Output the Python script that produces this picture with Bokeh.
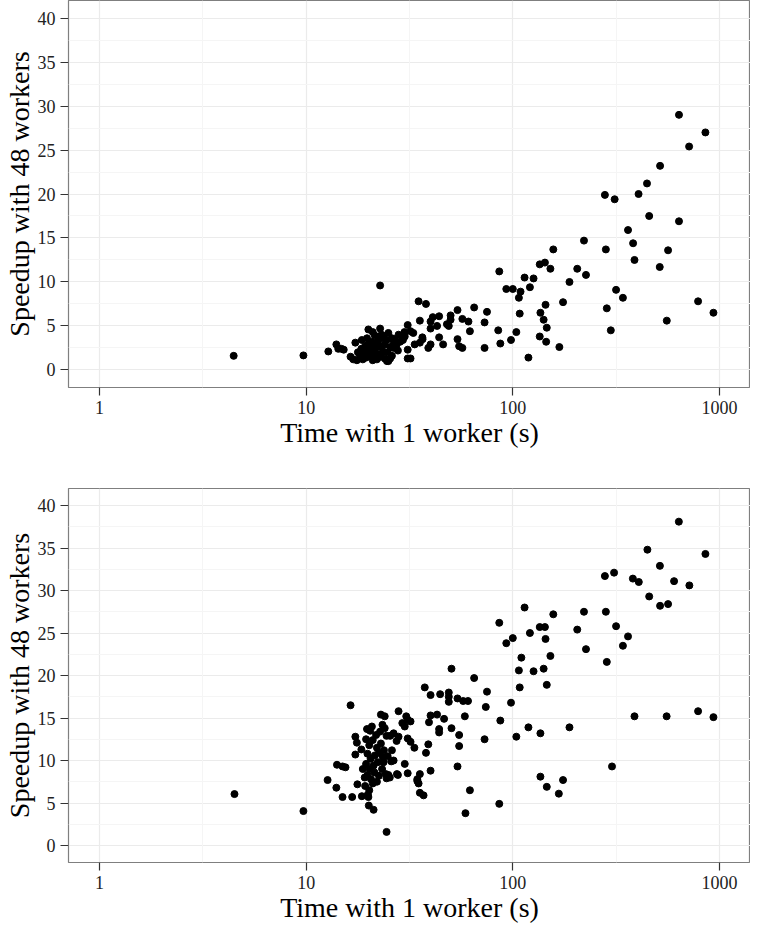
from bokeh.plotting import figure
from bokeh.models import Range1d, FixedTicker, SingleIntervalTicker, Grid, PrintfTickFormatter
from bokeh.layouts import column
from bokeh.embed import file_html
from bokeh.resources import INLINE

# ---------------- data ----------------
x_ticks = [1, 10, 100, 1000]
x_tick_labels = ["1", "10", "100", "1000"]
y_ticks = [0, 5, 10, 15, 20, 25, 30, 35, 40]

x_label = "Time with 1 worker (s)"
y_label = "Speedup with 48 workers"

top_time = [637, 855, 713, 516, 446, 279, 311, 406, 457, 637, 361, 382, 282, 564, 388, 514,
            221, 157, 135, 143, 152, 205, 226, 188, 86, 114, 126, 121, 109, 107, 93, 100,
            316, 341, 285, 298, 788, 935, 556, 175, 144, 108, 136, 141, 146, 135, 145, 168,
            104, 98, 87, 85, 119, 75, 73, 65, 62, 73, 54, 57, 61, 54, 55, 57,
            50, 50, 49, 44, 41, 40, 43, 40, 44, 46, 40, 39, 35.5, 35, 38, 31,
            33, 22.8, 36.5, 28, 26.5, 31, 32, 24.6, 29.9, 32, 48, 27.4, 29.4, 31, 33.5, 36.6,
            35.5, 25.5, 26.5,
            4.46, 9.7, 12.8, 14.0, 14.3, 14.8, 15.2, 17.3, 16.4, 16.9, 17.6, 20, 21, 22.8,
            18.6, 19.7, 23.2, 24.5, 25, 21, 18.2, 20.4, 22, 23.6, 19.3, 21.6, 22.8, 24,
            19, 20, 20.8, 21.5, 22.3, 23, 24, 25.5, 26, 19.5, 20.6, 21.8, 23, 24.8, 22,
            18.5, 17.8, 20, 21, 22.5, 23.8, 25, 21.5, 26.8, 27.8, 28.5, 30, 26, 18.8]
top_speedup = [29.0, 27.0, 25.4, 23.2, 21.2, 19.9, 19.4, 20.0, 17.5, 16.9, 15.9, 14.4, 13.7, 13.6, 12.5, 11.7,
               14.7, 13.7, 12.0, 12.2, 11.5, 11.5, 10.8, 10.0, 11.2, 10.5, 10.4, 9.4, 8.9, 8.2, 9.2, 9.2,
               9.1, 8.2, 7.0, 4.5, 7.8, 6.5, 5.6, 7.7, 7.4, 6.4, 6.5, 5.7, 4.8, 3.8, 3.2, 2.6,
               4.3, 3.4, 3.0, 4.5, 1.4, 6.6, 5.4, 7.1, 4.4, 2.5, 6.8, 5.8, 5.5, 3.5, 2.7, 2.5,
               6.2, 5.7, 5.0, 6.1, 6.0, 5.5, 5.0, 4.7, 3.7, 2.9, 2.9, 2.5, 5.6, 7.8, 7.5, 5.1,
               4.2, 9.6, 3.7, 4.0, 3.1, 1.3, 1.3, 1.0, 4.3, 4.4, 5.2, 2.9, 3.4, 2.3, 2.9, 3.5,
               3.1, 1.3, 2.5,
               1.6, 1.65, 2.1, 2.9, 2.4, 2.4, 2.3, 3.1, 1.5, 1.2, 1.1, 4.6, 4.3, 4.7,
               3.4, 3.6, 4.0, 3.4, 1.0, 1.1, 1.7, 2.3, 2.7, 2.1, 2.7, 1.7, 1.5, 1.3,
               2.0, 2.9, 3.2, 2.4, 3.3, 2.6, 2.9, 2.6, 3.6, 1.4, 1.6, 1.9, 1.8, 2.0, 1.2,
               2.4, 2.0, 2.1, 2.7, 3.8, 3.6, 4.2, 3.9, 3.5, 2.2, 3.2, 3.8, 1.6, 1.2]

bottom_time = [636, 448, 855, 515, 279, 309, 381, 407, 603, 715, 457, 516, 564, 282, 221, 316,
               361, 341, 205, 226, 285, 157, 114, 135, 143, 121, 144, 86, 93, 100, 110, 152,
               107, 126, 141, 108, 146, 98, 87, 104, 119, 136, 188, 388, 555, 788, 935, 302,
               136, 175, 146, 167, 86, 59, 65, 75, 74, 50.5, 58.6, 55, 55, 73, 54, 62,
               37, 35.5, 37.5, 40, 44.5, 49, 49, 49, 54, 57.5, 60.7, 50.5, 46.5, 44, 44, 43,
               40, 39.3, 39, 38, 40, 35.5, 34.5, 31, 30, 26.5, 33.4, 31, 32, 30.5, 31, 29.2,
               30, 32, 28, 23, 24, 23.4, 16.4, 17.3, 17.6, 17.3, 19.7, 20.4, 4.5, 9.7,
               14.1, 15, 15.5, 12.7, 14, 15, 16.7, 17.7, 18.6, 20, 20.1, 21.2, 24.5, 25.8,
               24.3, 24.5, 25.5, 27.4, 27.8, 25.4, 24.5, 23.3, 23.7, 34.5, 35, 27.5, 25,
               19.5, 20.2, 21, 22, 23, 19.8, 20.5, 21.5, 22.5, 19.5, 20.3, 21.2, 22.2, 23.5,
               19.8, 20.6, 21.4, 22.5, 19.3, 20.2, 21, 19.9, 22, 18.5, 18.8, 21.8, 20.8, 19.2,
               23.8, 22.8, 24.8, 26, 24, 26.5, 28]
bottom_speedup = [38.1, 34.8, 34.3, 32.9, 31.7, 32.1, 31.4, 31.0, 31.1, 30.6, 29.3, 28.2, 28.4, 27.5, 27.5, 25.8,
                  24.6, 23.5, 25.4, 23.1, 21.6, 27.2, 28.0, 25.7, 25.7, 25.0, 24.3, 26.2, 23.8, 24.4, 22.1, 22.3,
                  20.6, 20.5, 20.8, 18.6, 18.9, 16.8, 14.7, 12.8, 13.9, 13.2, 13.9, 15.2, 15.2, 15.8, 15.1, 9.3,
                  8.1, 7.7, 6.9, 6.1, 4.9, 3.8, 19.7, 18.1, 16.3, 20.8, 15.2, 13.0, 11.7, 12.5, 9.3, 6.5,
                  5.9, 6.2, 18.6, 17.7, 17.8, 18.0, 17.5, 16.9, 17.3, 17.0, 17.0, 13.8, 14.9, 13.7, 13.3, 15.4,
                  15.3, 14.5, 11.9, 10.9, 8.8, 8.4, 7.8, 8.5, 9.6, 10.0, 11.5, 12.6, 12.2, 15.2, 14.8, 14.4,
                  14.0, 14.6, 15.8, 15.4, 15.2, 14.2, 16.5, 12.8, 12.1, 10.7, 13.7, 13.5, 6.05, 4.05,
                  9.5, 9.3, 9.2, 7.7, 6.8, 5.7, 5.7, 7.2, 5.8, 5.7, 4.7, 4.2, 1.6, 9.9,
                  8.4, 12.9, 12.9, 12.3, 8.3, 8.0, 7.9, 9.0, 9.8, 7.6, 7.3, 8.4, 8.3,
                  12.5, 11.8, 12.4, 11.5, 12.0, 10.8, 10.2, 10.6, 10.9, 9.6, 9.0, 9.4, 9.8, 10.4,
                  8.3, 7.8, 8.6, 8.2, 7.0, 6.5, 7.3, 6.0, 7.5, 11.3, 9.0, 13.0, 14.0, 8.0,
                  11.2, 13.4, 10.5, 11.2, 13.8, 13.2, 12.8]

FONT = "Liberation Serif"


def make_panel(times, speedups, height, top_border):
    p = figure(width=750, height=height, x_axis_type="log",
               x_range=Range1d(0.708, 1413), y_range=Range1d(-2, 42),
               output_backend="svg", toolbar_location=None,
               min_border_left=63, min_border_right=0,
               min_border_top=top_border, min_border_bottom=10)
    p.background_fill_color = "white"
    p.border_fill_color = "white"
    p.outline_line_color = "#7f7f7f"
    p.outline_line_width = 1.2

    # x axis
    p.xaxis.ticker = FixedTicker(ticks=x_ticks, minor_ticks=[])
    p.xaxis.major_label_overrides = {t: l for t, l in zip(x_ticks, x_tick_labels)}
    p.xaxis.formatter = PrintfTickFormatter(format="%d")
    # y axis
    p.yaxis.ticker = SingleIntervalTicker(interval=5, num_minor_ticks=2)

    for ax in (p.xaxis, p.yaxis):
        ax.axis_line_color = None
        ax.major_tick_line_color = "#333333"
        ax.major_tick_line_width = 1.2
        ax.major_tick_out = 8
        ax.major_tick_in = 0
        ax.minor_tick_line_color = None
        ax.major_label_text_font = FONT
        ax.major_label_text_font_size = "18px"
        ax.major_label_text_color = "#222222"
        ax.major_label_standoff = 5
        ax.axis_label_text_font = FONT
        ax.axis_label_text_font_size = "28px"
        ax.axis_label_text_font_style = "normal"
        ax.axis_label_text_color = "black"
        ax.axis_label_standoff = 0
    p.xaxis.axis_label = x_label
    p.yaxis.axis_label = y_label

    # grids
    p.xgrid.ticker = FixedTicker(ticks=x_ticks)
    p.xgrid.grid_line_color = "#ebebeb"
    p.xgrid.grid_line_width = 1.2
    p.ygrid.ticker = SingleIntervalTicker(interval=5, num_minor_ticks=2)
    p.ygrid.grid_line_color = "#ebebeb"
    p.ygrid.grid_line_width = 1.2
    p.ygrid.minor_grid_line_color = "#f5f5f5"
    p.ygrid.minor_grid_line_width = 1
    p.add_layout(Grid(dimension=0, ticker=FixedTicker(ticks=[3.162, 31.62, 316.2]),
                      grid_line_color="#f5f5f5", grid_line_width=1))

    p.scatter(times, speedups, size=7, color="black", line_color="black")
    return p


p1 = make_panel(top_time, top_speedup, 450, 0)
p2 = make_panel(bottom_time, bottom_speedup, 475, 38)

layout = column(p1, p2, spacing=0)
open("out.html", "w").write(file_html(layout, INLINE))
